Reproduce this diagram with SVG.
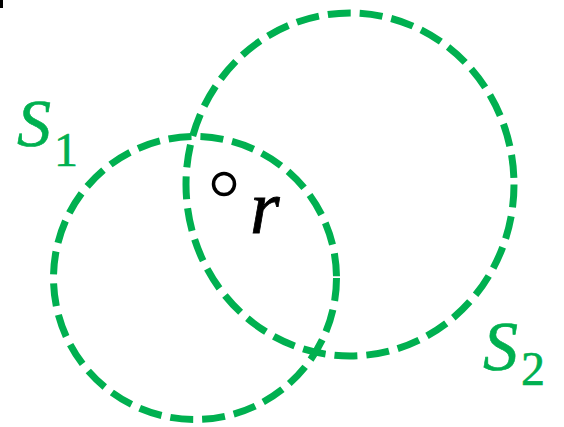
<svg xmlns="http://www.w3.org/2000/svg" width="564" height="427" viewBox="0 0 564 427">
<style>
.set{fill:none;stroke:#00B050;stroke-width:7;stroke-dasharray:23 9}
.lbl{font-family:"Liberation Serif","DejaVu Serif",serif;fill:#00B050;stroke:#00B050;stroke-width:0.6}
.it{font-style:italic}
</style>
<rect x="0" y="0" width="3" height="8" fill="#000"/>
<g id="S1">
<circle class="set" cx="195" cy="278" r="141.5"/>
<text class="lbl" x="17" y="146"><tspan class="it" font-size="68">S</tspan><tspan font-size="48" dx="3" dy="20">1</tspan></text>
</g>
<g id="S2">
<ellipse class="set" cx="350" cy="184.5" rx="164" ry="171.5"/>
<text class="lbl" x="483" y="370"><tspan class="it" font-size="70">S</tspan><tspan font-size="48" dx="3" dy="15">2</tspan></text>
</g>
<g id="r">
<circle cx="224" cy="184" r="10.5" fill="none" stroke="#000" stroke-width="3.5"/>
<text x="250" y="233" font-family="Liberation Serif, DejaVu Serif, serif" font-style="italic" font-size="76" fill="#000" stroke="#000" stroke-width="0.8">r</text>
</g>
<g id="connectors"/>
</svg>
